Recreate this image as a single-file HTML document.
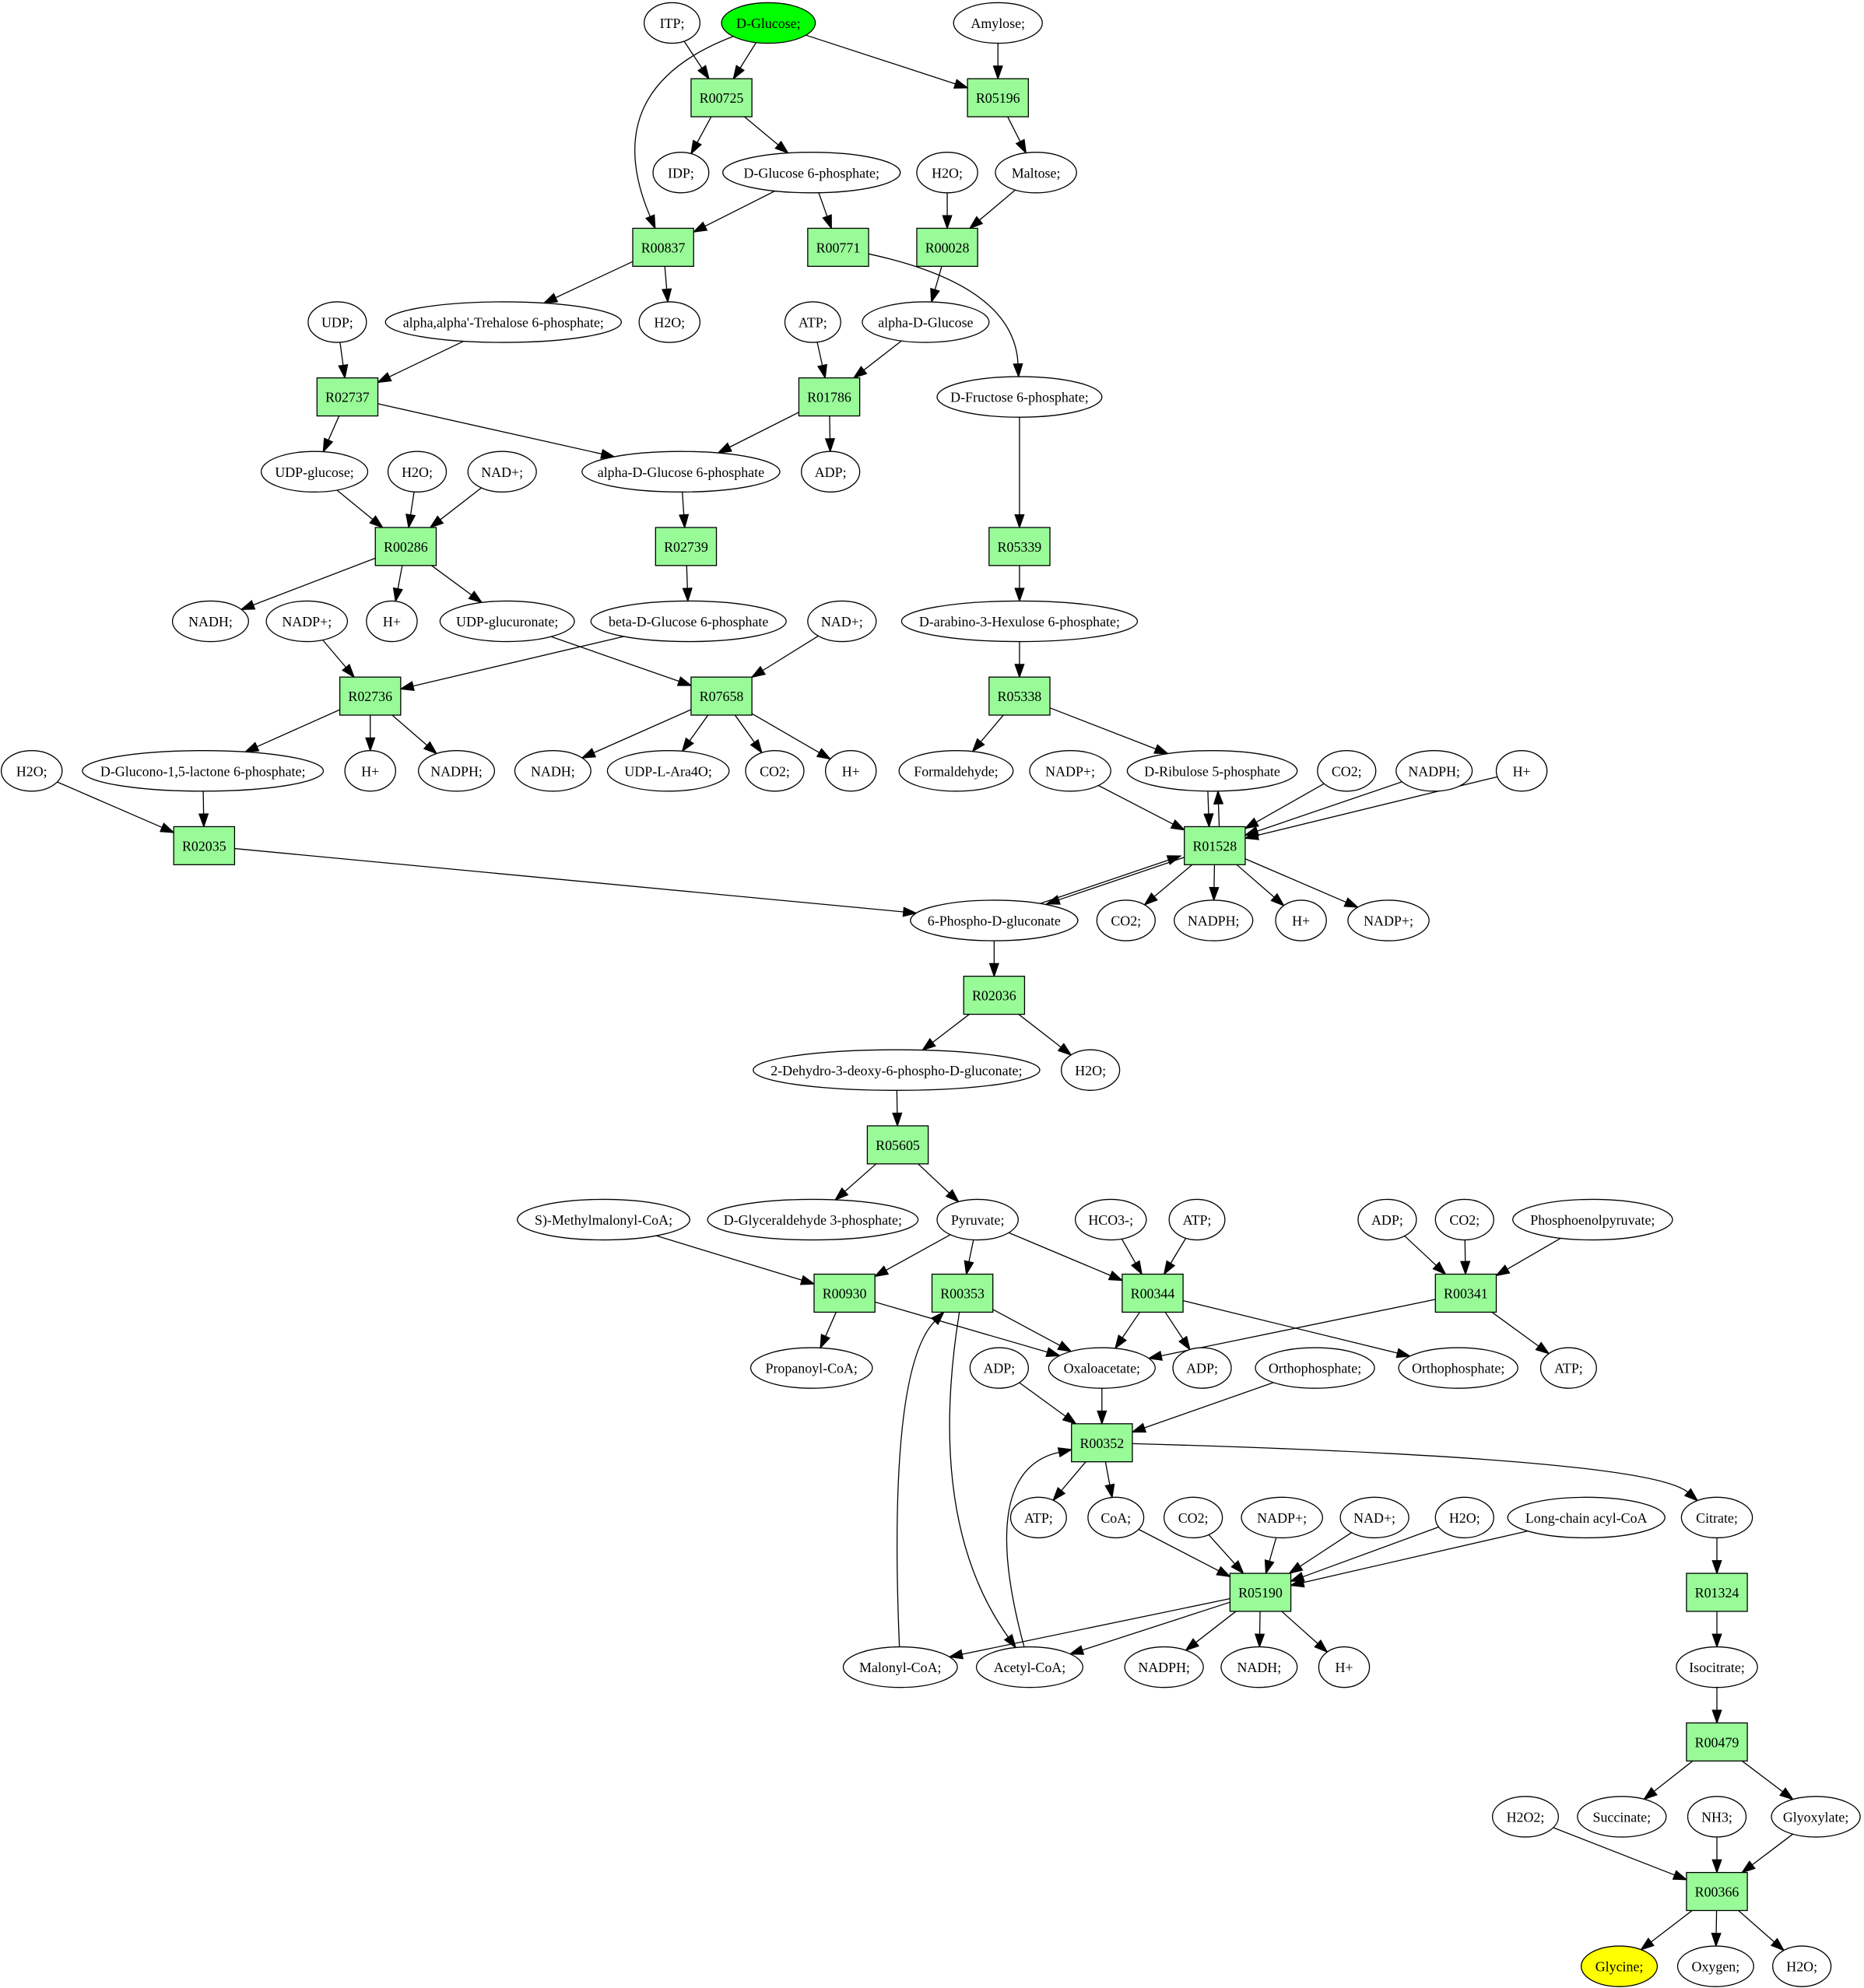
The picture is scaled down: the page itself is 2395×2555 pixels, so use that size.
<!DOCTYPE html>
<html><head><meta charset="utf-8"><style>
html,body{margin:0;padding:0;background:#fff;}
svg{display:block;}
text{font-family:"Liberation Serif",serif;font-size:11px;}
</style></head><body>
<svg id="s" width="2395" height="2555" viewBox="0 0 1470 1568" xmlns="http://www.w3.org/2000/svg"></svg>
<script>
const N={};
function E(id,x,y,rx,label,fill){N[id]={t:'e',x,y,rx,ry:16,label,fill:fill||'#fff'};}
function B(id,x,y){N[id]={t:'b',x,y,hw:24,hh:15,label:id,fill:'#98fb98'};}
E('ITP',530,18,22,'ITP;');E('DGlc',606,18,37,'D-Glucose;','#00ff00');E('Amy',787,18,35,'Amylose;');
B('R00725',569,77);B('R05196',787,77);
E('IDP',537,136,22,'IDP;');E('DG6P',640,136,70,'D-Glucose 6-phosphate;');E('H2Oa',747,136,24,'H2O;');E('Malt',817,136,32,'Maltose;');
B('R00837',523,195);B('R00771',661,195);B('R00028',747,195);
E('UDP',266,254,23,'UDP;');E('Tre',397,254,93,"alpha,alpha'-Trehalose 6-phosphate;");E('H2Ob',528,254,24,'H2O;');E('ATPa',641,254,22,'ATP;');E('aDG',730,254,50,'alpha-D-Glucose');
B('R02737',274,313);B('R01786',654,313);E('DF6P',804,313,65,'D-Fructose 6-phosphate;');
E('UDPg',248,372,42,'UDP-glucose;');E('H2Oc',329,372,23,'H2O;');E('NADa',396,372,27,'NAD+;');E('aDG6P',537,372,78,'alpha-D-Glucose 6-phosphate');E('ADPa',655,372,23,'ADP;');
B('R00286',320,431);B('R02739',541,431);B('R05339',804,431);
E('NADHa',166,490,30,'NADH;');E('NADPa',242,490,32,'NADP+;');E('Ha',309,490,20,'H+');E('UDPgu',400,490,53,'UDP-glucuronate;');E('bDG6P',543,490,77,'beta-D-Glucose 6-phosphate');E('NADb',664,490,27,'NAD+;');E('Dara',804,490,93,'D-arabino-3-Hexulose 6-phosphate;');
B('R02736',292,549);B('R07658',569,549);B('R05338',804,549);
E('H2Od',25,608,24,'H2O;');E('DGl',160,608,95,'D-Glucono-1,5-lactone 6-phosphate;');E('Hb',292,608,20,'H+');E('NADPHa',360,608,30,'NADPH;');E('NADHb',436,608,30,'NADH;');E('UAra',527,608,48,'UDP-L-Ara4O;');E('CO2a',611,608,23,'CO2;');E('Hc',671,608,20,'H+');E('Form',754,608,45,'Formaldehyde;');E('NADPb',844,608,32,'NADP+;');E('DRib',956,608,67,'D-Ribulose 5-phosphate');E('CO2b',1062,608,23,'CO2;');E('NADPHb',1131,608,30,'NADPH;');E('Hd',1200,608,20,'H+');
B('R02035',161,667);B('R01528',958,667);
E('PG',784,726,66,'6-Phospho-D-gluconate');E('CO2c',888,726,23,'CO2;');E('NADPHc',957,726,31,'NADPH;');E('He',1026,726,20,'H+');E('NADPc',1095,726,32,'NADP+;');
B('R02036',784,785);
E('KDPG',707,844,113,'2-Dehydro-3-deoxy-6-phospho-D-gluconate;');E('H2Oe',860,844,23,'H2O;');
B('R05605',708,903);
E('MMC',476,962,68,'S)-Methylmalonyl-CoA;');E('GAP',641,962,83,'D-Glyceraldehyde 3-phosphate;');E('Pyr',771,962,32,'Pyruvate;');E('HCO3',876,962,28,'HCO3-;');E('ATPb',944,962,22,'ATP;');E('ADPb',1094,962,23,'ADP;');E('CO2d',1155,962,23,'CO2;');E('PEP',1256,962,63,'Phosphoenolpyruvate;');
B('R00930',666,1020);B('R00353',759,1020);B('R00344',909,1020);B('R00341',1156,1020);
E('Prop',640,1079,48,'Propanoyl-CoA;');E('ADPc',788,1079,23,'ADP;');E('OAA',869,1079,42,'Oxaloacetate;');E('ADPd',948,1079,23,'ADP;');E('Pi1',1037,1079,47,'Orthophosphate;');E('Pi2',1150,1079,47,'Orthophosphate;');E('ATPc',1237,1079,22,'ATP;');
B('R00352',869,1138);
E('ATPd',819,1197,22,'ATP;');E('CoA',880,1197,22,'CoA;');E('CO2e',941,1197,23,'CO2;');E('NADPd',1011,1197,32,'NADP+;');E('NADc',1084,1197,27,'NAD+;');E('H2Of',1155,1197,23,'H2O;');E('LC',1251,1197,62,'Long-chain acyl-CoA');E('Cit',1354,1197,28,'Citrate;');
B('R05190',994,1256);B('R01324',1354,1256);
E('Mal',710,1315,45,'Malonyl-CoA;');E('Ac',812,1315,42,'Acetyl-CoA;');E('NADPHd',918,1315,31,'NADPH;');E('NADHc',993,1315,30,'NADH;');E('Hf',1060,1315,20,'H+');E('Iso',1354,1315,32,'Isocitrate;');
B('R00479',1354,1374);
E('H2O2',1203,1433,26,'H2O2;');E('Suc',1279,1433,35,'Succinate;');E('NH3',1354,1433,23,'NH3;');E('Glyox',1432,1433,35,'Glyoxylate;');
B('R00366',1354,1492);
E('Gly',1277,1551,30,'Glycine;','#ffff00');E('Oxy',1353,1551,30,'Oxygen;');E('H2Og',1421,1551,23,'H2O;');

const ED=[
['ITP','R00725'],['DGlc','R00725'],['DGlc','R00837',[470,70]],['DGlc','R05196'],['Amy','R05196'],
['R00725','IDP'],['R00725','DG6P'],['R05196','Malt'],['DG6P','R00837'],['DG6P','R00771'],['H2Oa','R00028'],['Malt','R00028'],
['R00837','Tre'],['R00837','H2Ob'],['R00771','DF6P',[800,225]],['R00028','aDG'],
['UDP','R02737'],['Tre','R02737'],['ATPa','R01786'],['aDG','R01786'],
['R02737','UDPg'],['R02737','aDG6P'],['R01786','aDG6P'],['R01786','ADPa'],
['UDPg','R00286'],['H2Oc','R00286'],['NADa','R00286'],['aDG6P','R02739'],['DF6P','R05339'],
['R00286','NADHa'],['R00286','Ha'],['R00286','UDPgu'],['R02739','bDG6P'],['R05339','Dara'],
['NADPa','R02736'],['bDG6P','R02736'],['UDPgu','R07658'],['NADb','R07658'],['Dara','R05338'],
['R02736','DGl'],['R02736','Hb'],['R02736','NADPHa'],['R07658','NADHb'],['R07658','UAra'],['R07658','CO2a'],['R07658','Hc'],['R05338','Form'],['R05338','DRib'],
['H2Od','R02035'],['DGl','R02035'],['NADPb','R01528'],['DRib','R01528',null,-4],['R01528','DRib',null,4],['CO2b','R01528'],['NADPHb','R01528'],['Hd','R01528'],
['R02035','PG'],['PG','R01528',null,-3],['R01528','PG',null,3],['R01528','CO2c'],['R01528','NADPHc'],['R01528','He'],['R01528','NADPc'],
['PG','R02036'],['R02036','KDPG'],['R02036','H2Oe'],['KDPG','R05605'],['R05605','GAP'],['R05605','Pyr'],
['MMC','R00930'],['Pyr','R00930'],['Pyr','R00353'],['Pyr','R00344'],['HCO3','R00344'],['ATPb','R00344'],['ADPb','R00341'],['CO2d','R00341'],['PEP','R00341'],
['R00930','Prop'],['R00930','OAA'],['R00353','OAA'],['R00344','OAA'],['R00344','ADPd'],['R00344','Pi2'],['R00341','OAA'],['R00341','ATPc'],
['ADPc','R00352'],['OAA','R00352'],['Pi1','R00352'],
['R00352','ATPd'],['R00352','CoA'],['R00352','Cit',[1300,1150]],['CoA','R05190'],['CO2e','R05190'],['NADPd','R05190'],['NADc','R05190'],['H2Of','R05190'],['LC','R05190'],
['R05190','Mal'],['R05190','Ac'],['R05190','NADPHd'],['R05190','NADHc'],['R05190','Hf'],
['Mal','R00353',[700,1080]],['R00353','Ac',[730,1200]],['Ac','R00352',[770,1160]],
['Cit','R01324'],['R01324','Iso'],['Iso','R00479'],['R00479','Suc'],['R00479','Glyox'],
['H2O2','R00366'],['NH3','R00366'],['Glyox','R00366'],['R00366','Gly'],['R00366','Oxy'],['R00366','H2Og']
];
function clip(n,dx,dy){
  if(n.t==='e'){const t=1/Math.sqrt((dx/n.rx)**2+(dy/n.ry)**2);return [n.x+dx*t,n.y+dy*t];}
  const t=Math.min(dx?n.hw/Math.abs(dx):1e9,dy?n.hh/Math.abs(dy):1e9);return [n.x+dx*t,n.y+dy*t];
}
let out='';
for(const [a,b,c,off] of ED){
  const s={...N[a]},d={...N[b]};
  if(off){s.x+=off;d.x+=off;}
  const ts=c?c:[d.x,d.y],td=c?c:[s.x,s.y];
  const p0=clip(s,ts[0]-s.x,ts[1]-s.y);
  const p1=clip(d,td[0]-d.x,td[1]-d.y);
  let vx=p1[0]-td[0],vy=p1[1]-td[1];
  if(!c){vx=p1[0]-p0[0];vy=p1[1]-p0[1];}
  const L=Math.hypot(vx,vy);const ux=vx/L,uy=vy/L;
  const al=10,aw=3.5;
  const bx=p1[0]-ux*al,by=p1[1]-uy*al;
  if(c) out+=`<path d="M${p0[0]},${p0[1]} Q${c[0]},${c[1]} ${bx},${by}" fill="none" stroke="#000" stroke-width="0.8"/>`;
  else out+=`<line x1="${p0[0]}" y1="${p0[1]}" x2="${bx}" y2="${by}" stroke="#000" stroke-width="0.8"/>`;
  out+=`<polygon points="${p1[0]},${p1[1]} ${bx-uy*aw},${by+ux*aw} ${bx+uy*aw},${by-ux*aw}" fill="#000" stroke="#000" stroke-width="0.8"/>`;
}
for(const k in N){const n=N[k];
  if(n.t==='e') out+=`<ellipse cx="${n.x}" cy="${n.y}" rx="${n.rx}" ry="${n.ry}" fill="${n.fill}" stroke="#000" stroke-width="0.8"/>`;
  else out+=`<rect x="${n.x-n.hw}" y="${n.y-n.hh}" width="${n.hw*2}" height="${n.hh*2}" fill="${n.fill}" stroke="#000" stroke-width="0.8"/>`;
  const lab=n.label.replace(/&/g,'&amp;').replace(/</g,'&lt;');
  out+=`<text x="${n.x}" y="${n.y+4}" text-anchor="middle">${lab}</text>`;
}
document.getElementById('s').innerHTML=out;
</script>
</body></html>
